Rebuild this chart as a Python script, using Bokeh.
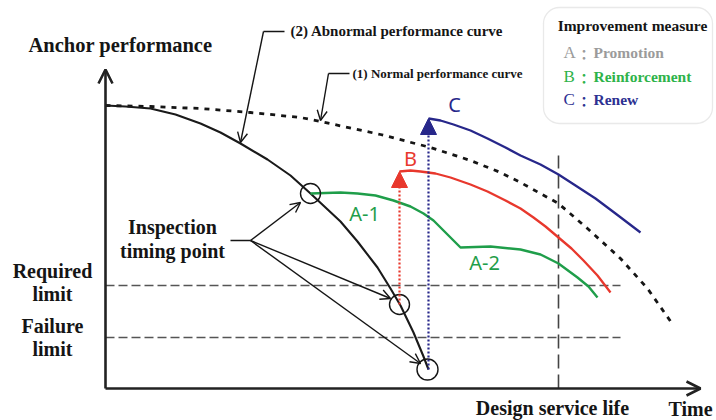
from bokeh.plotting import figure
from bokeh.models import Range1d, Arrow, OpenHead, NormalHead, BoxAnnotation
from bokeh.core.properties import value
from bokeh.embed import file_html
from bokeh.resources import INLINE

# ---- data (schematic units: time t, performance p) ----
normal_t = [0, 45, 95, 145, 195, 215, 275, 325, 365, 395, 415, 453, 482, 515, 542, 568]
normal_p = [283, 282, 280, 276, 271, 267, 254, 241, 228, 216, 206, 185, 160, 130, 100, 63]

abn_t = [0, 20, 45, 70, 95, 115, 135, 162, 185, 205, 220, 235, 252, 272, 285, 295, 308, 318, 323]
abn_p = [283, 282, 280, 274, 265, 256, 245, 229, 213, 195, 181, 167, 147, 121, 100, 83, 56, 32, 19]

a_t = [205, 235, 252, 270, 288, 305, 318, 328, 338, 347, 355, 385, 415, 435, 453, 472, 483, 492]
a_p = [195, 196, 195, 193, 188, 182, 175, 168, 158, 149, 141, 142, 139, 134, 125, 111, 102, 91]

b_t = [294, 305, 315, 330, 345, 365, 382, 400, 415, 428, 440, 453, 466, 478, 492, 505]
b_p = [217, 218, 217, 215, 211, 204, 197, 188, 180, 171, 162, 151, 140, 128, 113, 96]

c_t = [323, 335, 348, 365, 382, 400, 415, 435, 453, 470, 490, 510, 535]
c_p = [270, 268, 264, 258, 250, 241, 233, 224, 214, 203, 190, 175, 156]

required_limit = 103
failure_limit = 51
limit_end = 515
design_life = 453
design_top = 233

inspect_t = [205, 294, 322]
inspect_p = [195, 84, 19]
inspect_r = [10, 10, 10.5]

legend_keys = ["A", "B", "C"]
legend_words = ["Promotion", "Reinforcement", "Renew"]
legend_colors = ["#9b9b9b", "#2eb34a", "#2e3192"]

SERIF = "Liberation Serif"
SANS = "Noto Sans"
GREEN = "#1f9e4a"
RED = "#e8382d"
NAVY = "#27278a"
INK = "#151515"

p = figure(width=716, height=420, x_range=Range1d(-105, 611), y_range=Range1d(-32, 388),
           x_axis_type=None, y_axis_type=None, output_backend="svg", toolbar_location=None,
           min_border=0, outline_line_color=None)
p.grid.visible = False
p.background_fill_color = "white"

# legend box (rounded)
p.add_layout(BoxAnnotation(left=438, right=607, top=381, bottom=265, border_radius=16, level="underlay",
                           fill_color="white", fill_alpha=1, line_color="#b5b5b5", line_width=1.3))

# limits & design service life
p.line([0, limit_end], [required_limit, required_limit], line_color="#555555", line_width=1.6, line_dash="9 4")
p.line([0, limit_end], [failure_limit, failure_limit], line_color="#555555", line_width=1.6, line_dash="9 4")
p.line([design_life, design_life], [0, design_top], line_color="#444444", line_width=1.6, line_dash="14 6")

# curves
p.line(normal_t, normal_p, line_color=INK, line_width=2.8, line_dash="5 6")
p.line(abn_t, abn_p, line_color="#1a1a1a", line_width=2.1, line_join="round")
p.line(a_t, a_p, line_color=GREEN, line_width=2.4, line_join="round")
p.line(b_t, b_p, line_color=RED, line_width=2.3, line_join="round")
p.line(c_t, c_p, line_color=NAVY, line_width=2.3, line_join="round")

# improvement arrows
p.add_layout(Arrow(x_start=b_t[0], y_start=inspect_p[1], x_end=b_t[0], y_end=b_p[0],
                   line_color=RED, line_width=2.2, line_dash="2 2",
                   end=NormalHead(size=16, fill_color=RED, line_color=RED)))
p.add_layout(Arrow(x_start=c_t[0], y_start=inspect_p[2], x_end=c_t[0], y_end=c_p[0],
                   line_color=NAVY, line_width=2.2, line_dash="2 2",
                   end=NormalHead(size=16, fill_color=NAVY, line_color=NAVY)))

# inspection circles
p.scatter(inspect_t, inspect_p, size=[2 * r for r in inspect_r], marker="circle",
          fill_color=None, line_color=INK, line_width=1.4)

# axes with open arrow heads
p.add_layout(Arrow(x_start=0, y_start=0, x_end=0, y_end=319, line_width=2.6, line_color="#222222",
                   end=OpenHead(size=14, line_width=2.6, line_color="#222222")))
p.add_layout(Arrow(x_start=0, y_start=0, x_end=595, y_end=0, line_width=2.6, line_color="#222222",
                   end=OpenHead(size=14, line_width=2.6, line_color="#222222")))

# leader lines
p.line([125, 145], [148, 148], line_color=INK, line_width=1.4)
for (xe, ye) in [(195, 186), (285, 90), (315, 25)]:
    p.add_layout(Arrow(x_start=145, y_start=148, x_end=xe, y_end=ye, line_width=1.4, line_color=INK,
                       end=OpenHead(size=10, line_width=1.4, line_color=INK)))
p.line([158, 179], [357, 357], line_color=INK, line_width=1.4)
p.add_layout(Arrow(x_start=158, y_start=357, x_end=135, y_end=246, line_width=1.4, line_color=INK,
                   end=OpenHead(size=10, line_width=1.4, line_color=INK)))
p.line([223, 244], [315, 315], line_color=INK, line_width=1.4)
p.add_layout(Arrow(x_start=223, y_start=315, x_end=215, y_end=268, line_width=1.4, line_color=INK,
                   end=OpenHead(size=10, line_width=1.4, line_color=INK)))


def txt(x, y, s, size, color=INK, font=SERIF, style="bold", align="center"):
    p.text(x=[x], y=[y], text=[s], text_font=value(font), text_font_size=f"{size}px",
           text_font_style=style, text_color=color, text_align=align, text_baseline="middle")


txt(15, 344, "Anchor performance", 20.5)
txt(585, -20, "Time", 20)
txt(447, -19, "Design service life", 20)
txt(-53, 118, "Required", 20)
txt(-53, 95, "limit", 20)
txt(-53, 63, "Failure", 20)
txt(-53, 40, "limit", 20)
txt(67, 162, "Inspection", 20)
txt(67, 138, "timing point", 20)
txt(185, 358, "(2) Abnormal performance curve", 15, align="left")
txt(247, 315, "(1) Normal performance curve", 13, align="left")

txt(349, 284, "C", 20, color=NAVY, font=SANS, style="normal")
txt(305, 230, "B", 20, color=RED, font=SANS, style="normal")
txt(259, 175, "A-1", 20, color=GREEN, font=SANS, style="normal")
txt(379, 126, "A-2", 20, color=GREEN, font=SANS, style="normal")

# legend texts
txt(527, 363, "Improvement measure", 15.5)
legend_rows = [336, 312, 289]
for yy, k, w, c in zip(legend_rows, legend_keys, legend_words, legend_colors):
    txt(458, yy, k, 17, color=c, style="normal", align="left")
    txt(482, yy, "：", 14, color=c, font="Noto Sans CJK SC", style="bold")
    txt(488, yy, w, 15.5, color=c, align="left")

open("out.html", "w").write(file_html(p, INLINE))
